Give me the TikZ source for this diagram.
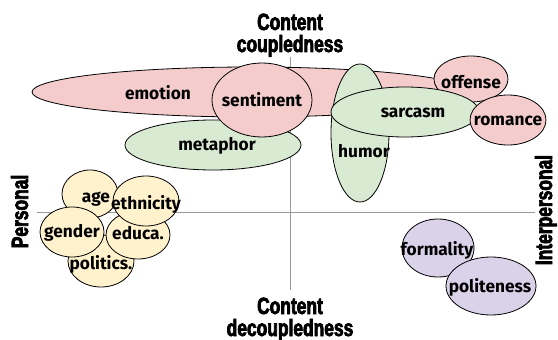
\documentclass[tikz,border=0pt]{standalone}
\usepackage{fontspec}
\setmainfont{Fira Sans}
\newfontfamily\axisfont[FakeStretch=0.74,FakeBold=3]{Liberation Sans}
\usetikzlibrary{shapes.geometric}
\definecolor{cpink}{HTML}{F4CCCC}
\definecolor{cgreen}{HTML}{D9EAD3}
\definecolor{cyellow}{HTML}{FFF2CC}
\definecolor{cpurple}{HTML}{D9D2E9}
\definecolor{caxis}{HTML}{999999}
\begin{document}
\begin{tikzpicture}[x=1pt,y=-1pt,
  blob/.style n args={3}{ellipse,draw=black,line width=0.8pt,fill=#1,minimum width=#2,minimum height=#3,inner sep=0pt},
  lab/.style={font=\fontsize{17.3}{19}\selectfont\bfseries,inner sep=0pt},
  axlab/.style={font=\axisfont\bfseries\fontsize{23.5}{24}\selectfont,inner sep=0pt,anchor=base},
  axisline/.style={draw=caxis,line width=0.8pt}]
\useasboundingbox (0,0) rectangle (558,340);
% axes
\coordinate (vt) at (290,57);
\coordinate (vb) at (290,290);
\coordinate (hl) at (37,212);
\coordinate (hr) at (535,212);
\draw[axisline] (vt) -- (vb);
\draw[axisline] (hl) -- (hr);
% axis labels
\node[axlab] (t1) at (290,30) {Content};
\node[axlab] (t2) at (290,52) {coupledness};
\node[axlab] (b1) at (290,314) {Content};
\node[axlab] (b2) at (290,336) {decoupledness};
\node[axlab,rotate=90] (pl) at (28,211.5) {Personal};
\node[axlab,rotate=90] (ipl) at (552,210) {Interpersonal};
% content-coupled cluster
\node[blob={cpink}{438pt}{50pt}] (emotion) at (251,92) {};
\node[blob={cpink}{74pt}{46pt}] (offense) at (471,79) {};
\node[blob={cgreen}{58pt}{138pt}] (humor) at (360,133) {};
\node[blob={cgreen}{148pt}{50pt}] (sarcasm) at (405,112) {};
\node[blob={cpink}{76pt}{50pt}] (romance) at (508,120) {};
\node[blob={cgreen}{176pt}{50pt}] (metaphor) at (213,145) {};
\node[blob={cpink}{100pt}{74pt}] (sentiment) at (262,100) {};
% personal cluster
\node[blob={cyellow}{66pt}{52pt}] (politics) at (101,261) {};
\node[blob={cyellow}{56pt}{48pt}] (age) at (90,194) {};
\node[blob={cyellow}{64pt}{50pt}] (gender) at (72,232) {};
\node[blob={cyellow}{64pt}{48pt}] (educa) at (138,235) {};
\node[blob={cyellow}{66pt}{50pt}] (ethnicity) at (146,201) {};
% interpersonal cluster
\node[blob={cpurple}{72pt}{58pt}] (formality) at (438,248) {};
\node[blob={cpurple}{90pt}{58pt}] (politeness) at (491,286) {};
% labels
\node[lab] (l-emotion) at (158,93) {emotion};
\node[lab] (l-sentiment) at (262,100) {sentiment};
\node[lab] (l-metaphor) at (217,146) {metaphor};
\node[lab] (l-humor) at (364,151) {humor};
\node[lab] (l-sarcasm) at (413,113) {sarcasm};
\node[lab] (l-offense) at (471,82) {offense};
\node[lab] (l-romance) at (508,121) {romance};
\node[lab] (l-age) at (96,199) {age};
\node[lab] (l-ethnicity) at (146,204) {ethnicity};
\node[lab] (l-gender) at (72,233) {gender};
\node[lab] (l-educa) at (138,233) {educa.};
\node[lab] (l-politics) at (101,264) {politics.};
\node[lab] (l-formality) at (437,250) {formality};
\node[lab] (l-politeness) at (490,287) {politeness};
\end{tikzpicture}
\end{document}
